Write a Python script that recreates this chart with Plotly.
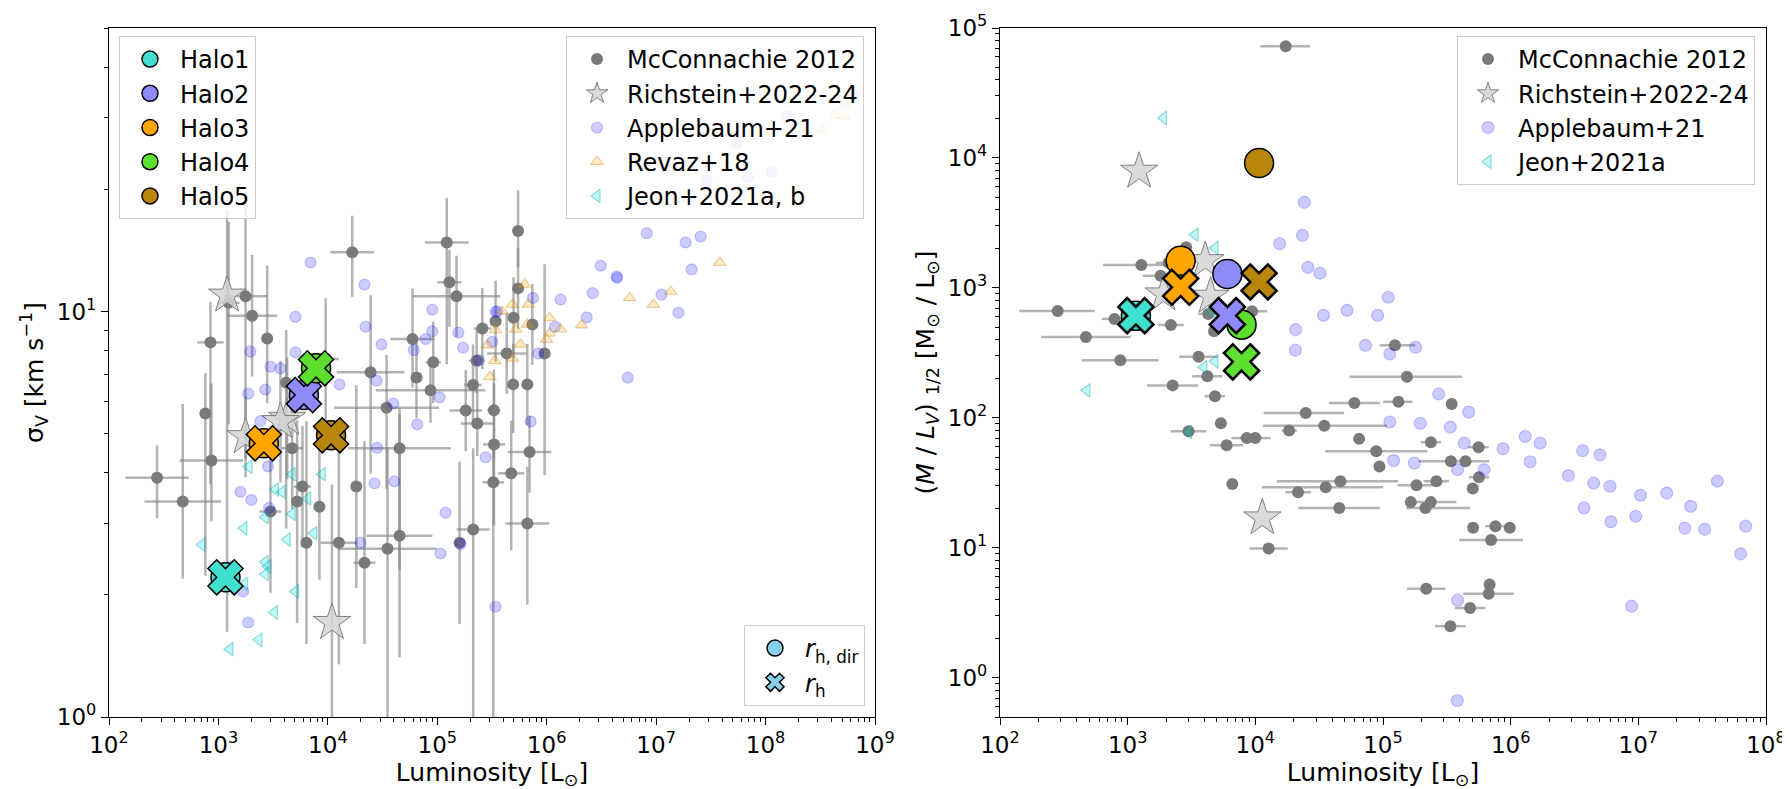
import numpy as np
import plotly.graph_objects as go

# ---------------- Simulated haloes ----------------
halo_names = ["Halo1", "Halo2", "Halo3", "Halo4", "Halo5"]
halo_colors = ["#40e0d0", "#8f8af9", "#ffa500", "#5ddf2f", "#b8860b"]
halo_L = [1160, 6040, 2600, 7800, 10700]
halo_sigma = [2.21, 6.22, 4.73, 7.24, 4.95]
halo_ML_rhdir = [610, 1282, 1620, 522, 9140]
halo_ML_rh = [612, 612, 1012, 270, 1112]

# ---------------- Left panel: McConnachie 2012 ----------------
mcL_L = [16700, 1.22e5, 1.29e5, 1.5e5, 1770, 2030, 845, 2790, 760, 4160,
         9550, 24600, 59400, 64600, 91800, 86700, 34400, 1.82e5, 2.32e5, 2.12e5,
         2.58e5, 2.29e5, 3.29e5, 3.41e5, 275, 472, 863, 4720, 5860, 5240,
         8370, 2990, 6370, 12600, 18200, 21600, 45200, 35100, 45200, 1.6e5,
         2.13e5, 3.25e5, 3.3e5, 5.47e5, 5.47e5, 4.98e5, 7.39e5, 4.31e5, 9.57e5, 4.94e5,
         6.65e5, 6.97e5, 4.74e5, 6.65e5, 1240]
mcL_sig = [14.0, 14.8, 11.8, 10.9, 10.9, 9.76, 8.39, 8.58, 5.6, 6.67,
           7.63, 7.08, 8.55, 6.87, 7.49, 6.39, 5.79, 5.70, 5.29, 6.59,
           9.08, 7.56, 5.71, 9.46, 3.89, 3.40, 4.29, 4.6, 3.70, 3.40,
           3.30, 3.21, 2.69, 2.69, 3.70, 2.40, 2.80, 2.60, 4.6, 2.69,
           2.90, 3.79, 4.70, 15.8, 11.4, 9.65, 9.29, 7.88, 7.88, 6.61,
           6.61, 4.5, 3.99, 3.0, 10.5]
# error bars in dex
mcL_xdex = [.2, .2, .11, .4, .2, .23, .12, .03, .05, .05,
            .12, .31, .2, .04, .07, .5, .48, .15, .15, .08,
            .08, .07, .06, .05, .29, .35, .29, .1, .08, .04,
            .05, .1, .04, .17, .04, .1, .3, .45, .47, .05,
            .15, .1, .1, .03, .03, .05, .05, .18, .05, .05,
            .05, .2, .12, .2, .1]
mcL_ylo = [.11, .3, .11, .1, .4, .15, .35, .16, .4, .36,
           .15, .25, .12, .1, .1, .08, .2, .1, .08, .1,
           .1, .08, .12, .1, .1, .19, .15, .15, .15, .3,
           .18, .2, .25, .3, .25, .2, .3, .42, .3, .2,
           .47, .58, .2, .09, .1, .1, .1, .1, .3, .12,
           .1, .1, .19, .2, .3]
mcL_yhi = [.09, .11, .08, .1, .26, .15, .1, .18, .1, .13,
           .15, .19, .125, .1, .1, .08, .13, .1, .08, .1,
           .1, .08, .1, .1, .08, .24, .19, .15, .15, .2,
           .15, .2, .3, .25, .25, .3, .3, .25, .1, .2,
           .2, .1, .15, .1, .1, .1, .1, .1, .22, .1,
           .1, .09, .13, .14, .2]

# ---------------- Left panel: Richstein+2022-24 ----------------
rsL_L = [1200, 4250, 3690, 1770, 10900]
rsL_sig = [10.97, 5.45, 5.35, 4.91, 1.71]
rsL_ylo = [.83, .15, .15, .1, .26]
rsL_yhi = [.21, .15, .15, .1, .34]

# ---------------- Left panel: Applebaum+21 ----------------
apL_L = [6940, 21600, 5060, 22100, 89900, 89900, 1960, 5060, 30900, 61100,
         78100, 1.56e5, 1.72e5, 2990, 3680, 2680, 1870, 12800, 27800, 39600,
         1.05e5, 65600, 2420, 2.4e5, 3.18e5, 3.41e5, 28200, 2840, 1590, 2000,
         2900, 26700, 40600, 19900, 1.19e5, 1.07e5, 1.63e5, 2.76e5, 1680, 1870,
         1290, 3.41e5, 8.2e6, 1.86e7, 2.55e7, 3.11e6, 4.36e6, 4.4e6, 2.11e7, 2.63e6,
         1.12e7, 1.6e7, 2.32e6, 1.34e6, 7.5e5, 1.19e6, 8.38e5, 5.5e6, 3.53e5, 7.13e5,
         6.46e8, 1.56e8, 5.45e7, 1.14e8, 6.83e7, 2.9e7]
apL_sig = [13.2, 11.65, 9.7, 9.17, 10.1, 8.94, 7.96, 7.93, 8.3, 8.03,
           8.55, 8.87, 8.14, 7.31, 7.24, 6.42, 6.27, 6.61, 6.75, 5.93,
           6.14, 5.27, 5.37, 7.59, 8.42, 9.98, 4.61, 4.15, 3.59, 3.43,
           3.28, 3.77, 3.81, 2.69, 3.19, 2.53, 2.67, 4.37, 2.04, 1.71,
           2.35, 1.87, 15.6, 14.8, 15.3, 12.97, 12.2, 12.1, 12.7, 11.1,
           11.0, 9.93, 9.67, 10.7, 10.8, 9.17, 7.88, 6.87, 10.0, 5.35,
           34.2, 30.2, 26.1, 22.1, 21.4, 21.0]

# ---------------- Left panel: Revaz+18 ----------------
rvL_L = [3.81e7, 5.73e6, 9.44e6, 1.36e7, 2.08e6, 1.34e6, 1.06e6, 1.06e6, 9.98e5, 6.8e5,
         6.28e5, 4.85e5, 3.92e5, 3.41e5, 5.2e5, 5.77e5, 3.34e5, 4.85e5, 6.65e5, 3.03e5,
         2.87e5, 5.35e8, 4.33e8, 5.16e8, 3.31e8]
rvL_sig = [13.2, 10.8, 10.4, 11.2, 9.25, 9.04, 9.65, 8.83, 8.53, 10.4,
           11.65, 10.4, 10.0, 9.0, 9.03, 8.3, 7.55, 7.66, 9.29, 6.9,
           8.26, 32.2, 30.4, 30.3, 28.0]

# ---------------- Left panel: Jeon+2021a, b ----------------
jeL_L = [1900, 4720, 8880, 3320, 3820, 6560, 2680, 4720, 1710, 7450,
         4250, 708, 2680, 2830, 2680, 1740, 5060, 3250, 2340, 1270]
jeL_sig = [4.14, 3.97, 3.97, 3.64, 3.59, 3.46, 3.11, 3.17, 2.92, 2.84,
           2.74, 2.66, 2.41, 2.35, 2.25, 2.13, 2.04, 1.81, 1.55, 1.47]

# ---------------- Right panel: McConnachie 2012 ----------------
mcR_L = [17300, 2870, 1280, 2090, 1810, 283, 789, 2180, 4280, 9420,
         4750, 471, 875, 3590, 4210, 2250, 4830, 5370, 3000, 5960,
         8570, 10000, 6600, 18400, 24800, 34700, 59700, 1.32e5, 1.54e5, 1.24e5,
         65000, 88500, 93800, 46400, 35600, 21600, 45400, 12700, 2.37e5, 3.4e5,
         4.43e5, 5.6e5, 5.64e5, 5.05e5, 2.62e5, 1.83e5, 1.65e5, 2.37e5, 2.15e5, 5.08e5,
         7.6e5, 9.84e5, 7.02e5, 2.18e5, 6.84e5, 6.73e5, 4.81e5, 3.37e5, 3.45e5]
mcR_ML = [72300, 2060, 1500, 1560, 1243, 665, 578, 519, 631, 662,
          464, 420, 278, 295, 209, 178, 147, 91, 79, 61.6,
          70, 70, 31, 80, 109, 87, 130, 133, 207, 362,
          69, 55.5, 42.3, 32.6, 29.3, 26.8, 20.3, 9.88, 65, 46.4,
          46.4, 59.6, 35, 28.6, 32.6, 30.4, 22.5, 22.5, 20.3, 14.3,
          14.7, 14.3, 11.5, 4.84, 5.22, 4.43, 3.45, 2.5, 128]
mcR_xlo = [.2, 0, .3, .1, .14, .3, .1, .1, .08, .1,
           0, .35, .3, .15, .12, .2, .08, 0, .14, .13,
           .12, .12, 0, .06, .33, .48, .2, .12, .45, .12,
           0, .4, 0, .5, .5, .1, .32, .15, .08, .25,
           0, .08, .08, 0, .1, .15, 0, .18, .15, 0,
           .08, 0, .25, .15, 0, .2, .12, .12, 0]
mcR_xhi = [.19, 0, .31, .1, .16, .29, .1, .1, .08, .12,
           0, .35, .3, .15, .12, .2, .08, 0, .14, .13,
           .12, .12, 0, .06, .3, .49, .2, .11, .43, .16,
           0, .4, 0, .45, .45, .1, .32, .15, .08, .3,
           0, .08, .08, 0, .1, .15, 0, .2, .35, 0,
           .08, 0, .25, .15, 0, .2, .12, .12, 0]

# ---------------- Right panel: Richstein+2022-24 ----------------
rsR_L = [1230, 4050, 1910, 4460, 11350]
rsR_ML = [7900, 1620, 899, 863, 17]

# ---------------- Right panel: Applebaum+21 ----------------
apR_L = [24200, 23400, 15500, 25800, 32100, 1.1e5, 52300, 34200, 90800, 20700,
         20600, 72900, 1.8e5, 1.13e5, 2.73e5, 4.69e5, 1.13e5, 1.96e5, 3.37e5, 4.33e5,
         1.3e6, 1.7e6, 8.72e5, 1.21e5, 1.76e5, 3.84e5, 6.2e5, 1.42e6, 2.83e6, 3.66e6,
         5.01e6, 4.47e6, 6.0e6, 3.75e6, 6.1e6, 1.04e7, 9.53e6, 1.67e7, 2.57e7, 2.31e7,
         3.31e7, 4.16e7, 6.93e7, 6.34e7, 8.87e6, 3.84e5, 3.82e5]
apR_ML = [4560, 2540, 2190, 1440, 1300, 848, 673, 616, 616, 478,
          332, 362, 350, 311, 153, 111, 93, 91, 85, 64,
          72, 64, 58, 47, 45, 40, 40, 46, 36, 56,
          52, 31.5, 29.8, 20.3, 15.9, 25.4, 17.5, 26.4, 20.9, 14.2,
          13.9, 32.6, 14.7, 9.0, 3.56, 3.96, 0.67]

# ---------------- Right panel: Jeon+2021a ----------------
jeR_L = [1910, 3370, 4830, 2920, 4570, 3950, 4830, 479, 3000]
jeR_ML = [20300, 2570, 2030, 1610, 662, 245, 273, 163, 78]

# ---------------- Axis ticks ----------------
xL_ticks = [1e2, 1e3, 1e4, 1e5, 1e6, 1e7, 1e8, 1e9]
xL_text = ["10<sup>2</sup>", "10<sup>3</sup>", "10<sup>4</sup>", "10<sup>5</sup>",
           "10<sup>6</sup>", "10<sup>7</sup>", "10<sup>8</sup>", "10<sup>9</sup>"]
yL_ticks = [1, 10]
yL_text = ["10<sup>0</sup>", "10<sup>1</sup>"]
xR_ticks = xL_ticks[:7]
xR_text = xL_text[:7]
yR_ticks = [1, 10, 100, 1e3, 1e4, 1e5]
yR_text = ["10<sup>0</sup>", "10<sup>1</sup>", "10<sup>2</sup>", "10<sup>3</sup>",
           "10<sup>4</sup>", "10<sup>5</sup>"]


def minor_vals(d0, d1):
    return [k * 10.0 ** d for d in range(d0, d1) for k in range(2, 10)]


def up(v, dex):
    v = np.asarray(v, float); dex = np.asarray(dex, float)
    return v * (10 ** dex - 1)


def dn(v, dex):
    v = np.asarray(v, float); dex = np.asarray(dex, float)
    return v * (1 - 10 ** (-dex))


FONT = "DejaVu Sans"
GRAY = "rgb(122,122,122)"
ERRC = "rgba(128,128,128,0.6)"
AP_FILL = "rgba(0,0,255,0.2)"
RV_FILL = "rgba(255,165,0,0.22)"
RV_EDGE = "rgba(200,130,0,0.35)"
JE_FILL = "rgba(0,230,230,0.25)"
JE_EDGE = "rgba(0,150,150,0.35)"

fig = go.Figure()

# ===== LEFT PANEL =====
fig.add_trace(go.Scatter(
    x=mcL_L, y=mcL_sig, mode="markers", xaxis="x", yaxis="y",
    marker=dict(size=1, color="rgba(0,0,0,0)"), showlegend=False, hoverinfo="skip",
    error_x=dict(type="data", symmetric=False, array=up(mcL_L, mcL_xdex),
                 arrayminus=dn(mcL_L, mcL_xdex), color=ERRC, thickness=2.5, width=0),
    error_y=dict(type="data", symmetric=False, array=up(mcL_sig, mcL_yhi),
                 arrayminus=dn(mcL_sig, mcL_ylo), color=ERRC, thickness=2.5, width=0)))
fig.add_trace(go.Scatter(
    x=rsL_L, y=rsL_sig, mode="markers", xaxis="x", yaxis="y",
    marker=dict(size=1, color="rgba(0,0,0,0)"), showlegend=False, hoverinfo="skip",
    error_y=dict(type="data", symmetric=False, array=up(rsL_sig, rsL_yhi),
                 arrayminus=dn(rsL_sig, rsL_ylo), color=ERRC, thickness=2.5, width=0)))
fig.add_trace(go.Scatter(
    x=mcL_L, y=mcL_sig, mode="markers", xaxis="x", yaxis="y", name="McConnachie 2012",
    legend="legend3",
    marker=dict(size=12, color=GRAY, line=dict(width=0))))
fig.add_trace(go.Scatter(
    x=rsL_L, y=rsL_sig, mode="markers", xaxis="x", yaxis="y", name="Richstein+2022-24",
    legend="legend3",
    marker=dict(symbol="star", size=28, color="rgba(211,211,211,0.85)",
                line=dict(width=1, color="#808080"))))
fig.add_trace(go.Scatter(
    x=apL_L, y=apL_sig, mode="markers", xaxis="x", yaxis="y", name="Applebaum+21",
    legend="legend3",
    marker=dict(size=11, color=AP_FILL, line=dict(width=1.2, color=AP_FILL))))
fig.add_trace(go.Scatter(
    x=rvL_L, y=rvL_sig, mode="markers", xaxis="x", yaxis="y", name="Revaz+18",
    legend="legend3",
    marker=dict(symbol="triangle-up", size=11, color=RV_FILL, line=dict(width=1.2, color=RV_EDGE))))
fig.add_trace(go.Scatter(
    x=jeL_L, y=jeL_sig, mode="markers", xaxis="x", yaxis="y", name="Jeon+2021a, b",
    legend="legend3",
    marker=dict(symbol="triangle-left", size=12, color=JE_FILL, line=dict(width=1.2, color=JE_EDGE))))

for i in range(5):
    fig.add_trace(go.Scatter(
        x=[halo_L[i]], y=[halo_sigma[i]], mode="markers", xaxis="x", yaxis="y",
        name=halo_names[i], legend="legend",
        marker=dict(symbol="circle", size=29, color=halo_colors[i], line=dict(width=1.5, color="black"))))
    fig.add_trace(go.Scatter(
        x=[halo_L[i]], y=[halo_sigma[i]], mode="markers", xaxis="x", yaxis="y",
        showlegend=False,
        marker=dict(symbol="x", size=31, color=halo_colors[i], line=dict(width=1.5, color="black"))))

fig.add_trace(go.Scatter(
    x=[None], y=[None], mode="markers", xaxis="x", yaxis="y",
    name="<i>r</i><sub>h, dir</sub>", legend="legend2",
    marker=dict(symbol="circle", size=29, color="#87ceeb", line=dict(width=1.5, color="black"))))
fig.add_trace(go.Scatter(
    x=[None], y=[None], mode="markers", xaxis="x", yaxis="y",
    name="<i>r</i><sub>h</sub>", legend="legend2",
    marker=dict(symbol="x", size=29, color="#87ceeb", line=dict(width=1.5, color="black"))))

# ===== RIGHT PANEL =====
fig.add_trace(go.Scatter(
    x=mcR_L, y=mcR_ML, mode="markers", xaxis="x2", yaxis="y2",
    marker=dict(size=1, color="rgba(0,0,0,0)"), showlegend=False, hoverinfo="skip",
    error_x=dict(type="data", symmetric=False, array=up(mcR_L, mcR_xhi),
                 arrayminus=dn(mcR_L, mcR_xlo), color=ERRC, thickness=2.5, width=0)))
fig.add_trace(go.Scatter(
    x=mcR_L, y=mcR_ML, mode="markers", xaxis="x2", yaxis="y2", name="McConnachie 2012",
    legend="legend4",
    marker=dict(size=12, color=GRAY, line=dict(width=0))))
fig.add_trace(go.Scatter(
    x=rsR_L, y=rsR_ML, mode="markers", xaxis="x2", yaxis="y2", name="Richstein+2022-24",
    legend="legend4",
    marker=dict(symbol="star", size=28, color="rgba(211,211,211,0.85)",
                line=dict(width=1, color="#808080"))))
fig.add_trace(go.Scatter(
    x=apR_L, y=apR_ML, mode="markers", xaxis="x2", yaxis="y2", name="Applebaum+21",
    legend="legend4",
    marker=dict(size=12, color=AP_FILL, line=dict(width=1.2, color=AP_FILL))))
fig.add_trace(go.Scatter(
    x=jeR_L, y=jeR_ML, mode="markers", xaxis="x2", yaxis="y2", name="Jeon+2021a",
    legend="legend4",
    marker=dict(symbol="triangle-left", size=12, color=JE_FILL, line=dict(width=1.2, color=JE_EDGE))))

for i in range(5):
    fig.add_trace(go.Scatter(
        x=[halo_L[i]], y=[halo_ML_rhdir[i]], mode="markers", xaxis="x2", yaxis="y2",
        showlegend=False,
        marker=dict(symbol="circle", size=29, color=halo_colors[i], line=dict(width=1.5, color="black"))))
for i in range(5):
    fig.add_trace(go.Scatter(
        x=[halo_L[i]], y=[halo_ML_rh[i]], mode="markers", xaxis="x2", yaxis="y2",
        showlegend=False,
        marker=dict(symbol="x", size=31, color=halo_colors[i], line=dict(width=2.5, color="black"))))

TICK_FS = 23
TITLE_FS = 25
LEG_FS = 24

axis_common = dict(type="log", showline=True, linecolor="black", linewidth=1.2, mirror=True,
                   ticks="outside", ticklen=7, tickwidth=1.2, tickcolor="black",
                   showgrid=False, zeroline=False, automargin=False,
                   tickfont=dict(family=FONT, size=TICK_FS, color="black"))

W, H = 1790, 789
ML, MR, MT, MB = 101, 32, 20, 80
PW, PH = W - ML - MR, H - MT - MB


def px(xp):
    return (xp - ML) / PW


def py(yp):
    return (H - MB - yp) / PH


leg_common = dict(bgcolor="rgba(255,255,255,0.8)", bordercolor="#cccccc", borderwidth=1,
                  font=dict(family=FONT, size=LEG_FS, color="black"))

fig.update_layout(
    width=W, height=H, margin=dict(l=ML, r=MR, t=MT, b=MB, autoexpand=False),
    paper_bgcolor="white", plot_bgcolor="white",
    font=dict(family=FONT, size=LEG_FS, color="black"),
    xaxis=dict(**axis_common, domain=[0, px(867)], range=[2, 9], anchor="y",
               tickvals=xL_ticks, ticktext=xL_text,
               minor=dict(tickvals=minor_vals(2, 9), ticks="outside", ticklen=4, tickcolor="black", showgrid=False),
               title=dict(text="Luminosity [L<sub>⊙</sub>]", font=dict(family=FONT, size=TITLE_FS), standoff=6)),
    yaxis=dict(**axis_common, domain=[0, 1], range=[0, np.log10(50)], anchor="x",
               tickvals=yL_ticks, ticktext=yL_text,
               minor=dict(tickvals=minor_vals(0, 2), ticks="outside", ticklen=4, tickcolor="black", showgrid=False),
               title=dict(text="σ<sub>V</sub> [km s<sup>−1</sup>]", font=dict(family=FONT, size=TITLE_FS), standoff=6)),
    xaxis2=dict(**axis_common, domain=[px(992), 1], range=[2, 8], anchor="y2",
                tickvals=xR_ticks, ticktext=xR_text,
                minor=dict(tickvals=minor_vals(2, 8), ticks="outside", ticklen=4, tickcolor="black", showgrid=False),
                title=dict(text="Luminosity [L<sub>⊙</sub>]", font=dict(family=FONT, size=TITLE_FS), standoff=6)),
    yaxis2=dict(**axis_common, domain=[0, 1], range=[np.log10(0.5), 5], anchor="x2",
                tickvals=yR_ticks, ticktext=yR_text,
                minor=dict(tickvals=minor_vals(-1, 5), ticks="outside", ticklen=4, tickcolor="black", showgrid=False),
                title=dict(text="(<i>M</i> / <i>L<sub>V</sub></i>) <sub>1/2</sub> [M<sub>⊙</sub> / L<sub>⊙</sub>]",
                           font=dict(family=FONT, size=TITLE_FS), standoff=6)),
    legend=dict(**leg_common, x=px(111), y=py(28), xanchor="left", yanchor="top", itemwidth=50),
    legend2=dict(**leg_common, x=px(857), y=py(698), xanchor="right", yanchor="bottom", itemwidth=50),
    legend3=dict(**leg_common, x=px(856), y=py(28), xanchor="right", yanchor="top", itemwidth=50),
    legend4=dict(**leg_common, x=px(1747), y=py(28), xanchor="right", yanchor="top", itemwidth=50),
)

fig.write_html("out.html")
